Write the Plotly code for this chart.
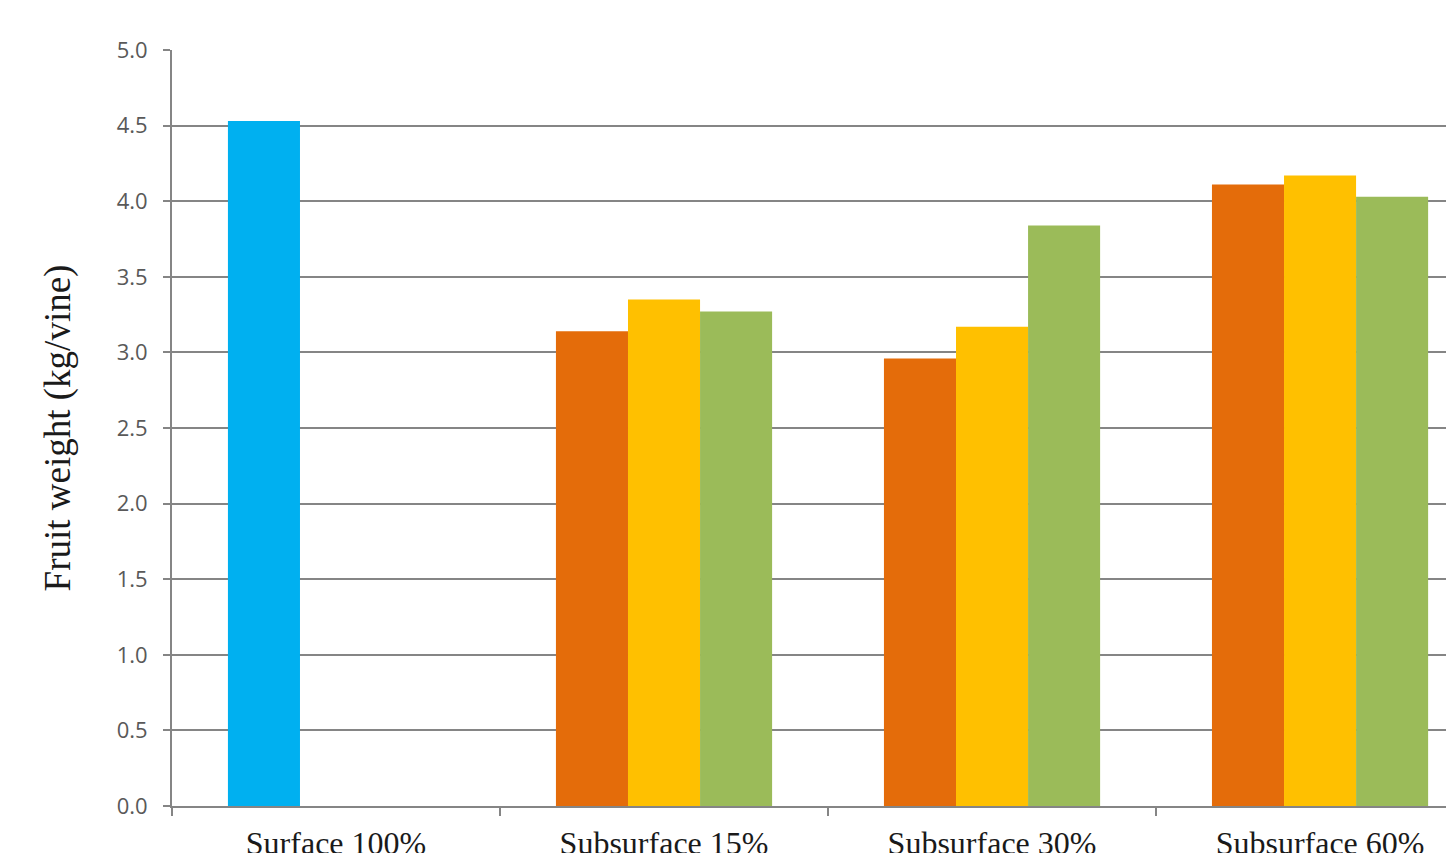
import plotly.graph_objects as go

categories = ["Surface 100%", "Subsurface 15%", "Subsurface 30%", "Subsurface 60%"]
series_a = [4.53, 3.14, 2.96, 4.11]
series_b = [None, 3.35, 3.17, 4.17]
series_c = [None, 3.27, 3.84, 4.03]
colors_a = ["#00B0F0", "#E46C0A", "#E46C0A", "#E46C0A"]
color_b = "#FFC000"
color_c = "#9BBB59"
y_ticks = [0, 0.5, 1.0, 1.5, 2.0, 2.5, 3.0, 3.5, 4.0, 4.5, 5.0]

fig = go.Figure()
fig.add_trace(go.Bar(x=categories, y=series_a, marker=dict(color=colors_a, line=dict(width=0))))
fig.add_trace(go.Bar(x=categories, y=series_b, marker=dict(color=color_b, line=dict(width=0))))
fig.add_trace(go.Bar(x=categories, y=series_c, marker=dict(color=color_c, line=dict(width=0))))

fig.update_layout(
    width=1446, height=853,
    margin=dict(l=172, r=0, t=50, b=47),
    paper_bgcolor="white", plot_bgcolor="white",
    barmode="group", bargap=0.341, bargroupgap=0,
    showlegend=False,
)
fig.update_xaxes(
    range=[-0.5, 3.384], automargin=False,
    showline=True, linecolor="#858585", linewidth=2,
    ticks="outside", tickson="boundaries", ticklen=8, tickcolor="#858585", tickwidth=2,
    tickfont=dict(family="Liberation Serif", size=32, color="#1a1a1a"),
    ticklabelstandoff=8,
    showgrid=False,
)
fig.update_yaxes(
    range=[0, 5], tickvals=y_ticks, tickformat=".1f", automargin=False,
    showline=True, linecolor="#858585", linewidth=2,
    ticks="outside", ticklen=7, tickcolor="#858585", tickwidth=2,
    showgrid=True, gridcolor="#858585", gridwidth=2,
    tickfont=dict(family="Open Sans", size=22, color="#595959"),
    ticklabelstandoff=11,
    zeroline=False,
    title=dict(text="Fruit weight (kg/vine)", font=dict(family="Liberation Serif", size=37, color="#1a1a1a"), standoff=35),
)
fig.write_html("out.html")
